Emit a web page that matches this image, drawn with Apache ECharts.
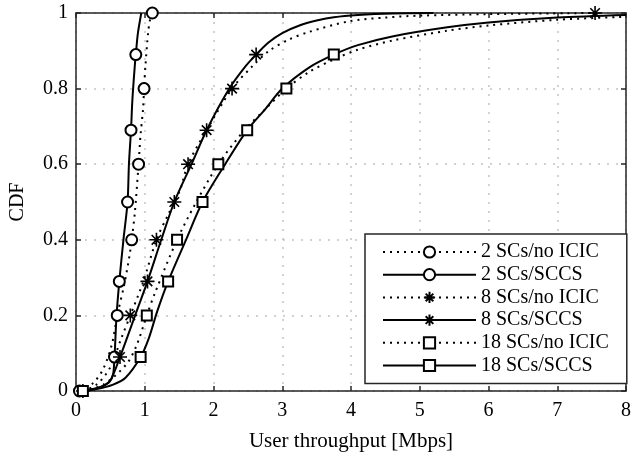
<!DOCTYPE html>
<html><head><meta charset="utf-8">
<script src="https://cdn.jsdelivr.net/npm/echarts@6/dist/echarts.min.js"></script>
<style>html,body{margin:0;padding:0;background:#fff}#c{width:634px;height:457px}</style>
</head><body><div id="c"></div>
<script>
// ---- data ----
const seriesNames = ['2 SCs/no ICIC', '2 SCs/SCCS', '8 SCs/no ICIC', '8 SCs/SCCS', '18 SCs/no ICIC', '18 SCs/SCCS'];
const xTicks = [0, 1, 2, 3, 4, 5, 6, 7, 8];
const yTicks = [0, 0.2, 0.4, 0.6, 0.8, 1];

// [throughput (Mbps), CDF]
const sc2NoIcic = [[0.05,0],[0.25,0.021],[0.40,0.06],[0.52,0.122],[0.60,0.2],[0.70,0.28],[0.78,0.36],[0.81,0.4],[0.855,0.47],[0.91,0.6],[0.94,0.68],[0.975,0.745],[0.99,0.8],[1.01,0.86],[1.05,0.95],[1.08,0.985],[1.11,1.0]];
const sc2Sccs = [[0.08,0],[0.35,0.01],[0.49,0.025],[0.54,0.045],[0.56,0.09],[0.59,0.2],[0.63,0.29],[0.69,0.4],[0.75,0.5],[0.77,0.6],[0.80,0.69],[0.82,0.77],[0.855,0.86],[0.87,0.89],[0.90,0.946],[0.95,1.0]];
const sc8NoIcic = [[0.1,0],[0.3,0.017],[0.49,0.06],[0.66,0.14],[0.79,0.2],[0.98,0.29],[1.17,0.4],[1.35,0.47],[1.51,0.53],[1.63,0.6],[1.9,0.69],[2.27,0.8],[2.57,0.86],[2.81,0.9],[3.1,0.93],[3.39,0.95],[3.97,0.978],[4.5,0.988],[5.0,0.993],[6.0,0.997],[7.55,1.0]];
const sc8Sccs = [[0.15,0],[0.35,0.01],[0.49,0.025],[0.64,0.09],[0.88,0.21],[1.04,0.29],[1.24,0.4],[1.43,0.5],[1.68,0.6],[1.9,0.69],[2.23,0.8],[2.47,0.86],[2.62,0.89],[2.8,0.922],[3.0,0.947],[3.25,0.967],[3.5,0.98],[3.75,0.989],[4.1,0.995],[4.6,0.999],[5.2,1.0]];
const sc18NoIcic = [[0.1,0],[0.4,0.017],[0.73,0.07],[0.88,0.12],[1.03,0.2],[1.15,0.26],[1.47,0.4],[1.72,0.49],[2.07,0.6],[2.45,0.69],[2.75,0.745],[3.06,0.8],[3.4,0.845],[3.75,0.877],[4.1,0.903],[4.6,0.927],[5.4,0.953],[6.0,0.967],[7.0,0.982],[8.0,0.99]];
const sc18Sccs = [[0.1,0],[0.3,0.005],[0.54,0.017],[0.72,0.035],[0.94,0.09],[1.06,0.14],[1.18,0.21],[1.34,0.29],[1.6,0.4],[1.84,0.5],[2.17,0.6],[2.49,0.69],[2.75,0.745],[3.0,0.8],[3.4,0.857],[3.75,0.89],[4.1,0.915],[4.6,0.938],[5.4,0.962],[6.0,0.975],[7.0,0.988],[8.0,0.995]];

// CDF levels at which a marker is drawn on each curve
const marksNoIcic = [0, 0.2, 0.4, 0.6, 0.8, 1.0];
const marksSccs = [0.09, 0.29, 0.5, 0.69, 0.89];

// ---- chart ----
const FONT = 'Liberation Serif';
const INK = '#262626';
const STAR = 'path://M5,0L5,10M0,5L10,5M1.6,1.6L8.4,8.4M8.4,1.6L1.6,8.4';

function withMarks(points, marks) {
  return points.map(([x, y]) => marks.includes(y) ? [x, y] : { value: [x, y], symbol: 'none' });
}
function mk(name, points, marks, dotted, symbol, size) {
  return {
    name, type: 'line', data: withMarks(points, marks), smooth: 0.3, clip: false,
    showSymbol: true, symbol, symbolSize: size,
    lineStyle: { color: '#000', width: 2, type: dotted ? [2, 5] : 'solid', cap: 'butt' },
    itemStyle: { color: '#000', borderColor: '#000', borderWidth: 1.6 },
    emphasis: { disabled: true }, animation: false
  };
}

const chart = echarts.init(document.getElementById('c'), null, { renderer: 'canvas' });
const axisCommon = {
  type: 'value',
  axisLine: { show: true, onZero: false, lineStyle: { color: INK, width: 1.5 } },
  axisTick: { show: true, inside: true, length: 5, lineStyle: { color: INK, width: 1.5 } }
};
chart.setOption({
  animation: false,
  grid: { left: 76, right: 6, top: 13, bottom: 64 },
  xAxis: [
    Object.assign({}, axisCommon, {
      min: xTicks[0], max: xTicks[xTicks.length - 1], interval: 1, position: 'bottom',
      axisLabel: { color: '#000', fontFamily: FONT, fontSize: 20, margin: 10 },
      splitLine: { show: true, lineStyle: { type: [2, 7], color: '#c4c4c4', width: 1.5 } },
      name: 'User throughput [Mbps]', nameLocation: 'middle', nameGap: 40,
      nameTextStyle: { color: '#000', fontFamily: FONT, fontSize: 21 }
    }),
    Object.assign({}, axisCommon, {
      min: xTicks[0], max: xTicks[xTicks.length - 1], interval: 1, position: 'top',
      axisLabel: { show: false }, splitLine: { show: false }
    })
  ],
  yAxis: [
    Object.assign({}, axisCommon, {
      min: yTicks[0], max: yTicks[yTicks.length - 1], interval: 0.2, position: 'left',
      axisLabel: { color: '#000', fontFamily: FONT, fontSize: 20, margin: 8 },
      splitLine: { show: true, lineStyle: { type: [2, 7], color: '#c4c4c4', width: 1.5 } },
      name: 'CDF', nameLocation: 'middle', nameGap: 48, nameRotate: 90,
      nameTextStyle: { color: '#000', fontFamily: FONT, fontSize: 20 }
    }),
    Object.assign({}, axisCommon, {
      min: yTicks[0], max: yTicks[yTicks.length - 1], interval: 0.2, position: 'right',
      axisLabel: { show: false }, splitLine: { show: false }
    })
  ],
  legend: {
    orient: 'vertical', left: 365, top: 234,
    itemWidth: 93, itemHeight: 14, itemGap: 2.7,
    padding: [8, 18, 8, 17],
    backgroundColor: '#fff', borderColor: INK, borderWidth: 1.5, borderRadius: 0,
    textStyle: { color: '#000', fontFamily: FONT, fontSize: 20 },
    data: seriesNames
  },
  series: [
    mk(seriesNames[0], sc2NoIcic, marksNoIcic, true, 'emptyCircle', 11),
    mk(seriesNames[1], sc2Sccs, marksSccs, false, 'emptyCircle', 11),
    mk(seriesNames[2], sc8NoIcic, marksNoIcic, true, STAR, 14),
    mk(seriesNames[3], sc8Sccs, marksSccs, false, STAR, 14),
    mk(seriesNames[4], sc18NoIcic, marksNoIcic, true, 'emptyRect', 10),
    mk(seriesNames[5], sc18Sccs, marksSccs, false, 'emptyRect', 10)
  ]
});
</script></body></html>
